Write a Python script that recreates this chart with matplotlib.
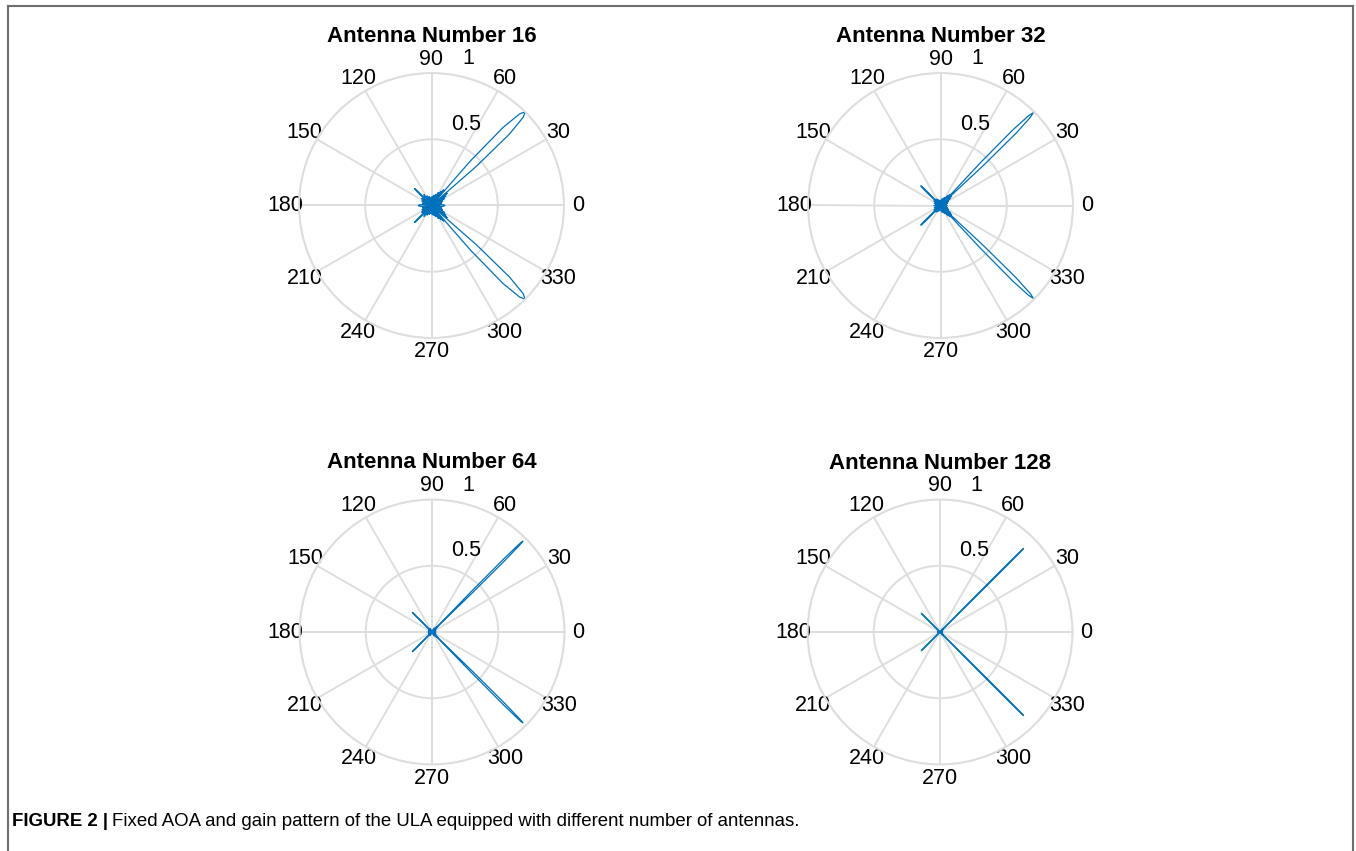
import numpy as np
import matplotlib.pyplot as plt
from matplotlib.lines import Line2D

plt.rcParams['font.family'] = ['Liberation Sans', 'DejaVu Sans']

# gain pattern (angles in degrees, gain normalised)
antenna_numbers = [16, 32, 64, 128]
aoa_deg = 45
main_peak = [1.00, 0.99, 0.97, 0.89]
main_halfwidth = [5.5, 2.8, 1.2, 0.5]

# sidelobes in the upper half plane (mirrored to the lower half)
side_angles_16 = [0, 8, 15, 22, 28, 34, 38, 52, 56, 62, 68, 75, 85, 95, 105, 115, 125, 135, 145, 155, 165, 180]
side_peaks_16 = [0.10, 0.07, 0.08, 0.09, 0.11, 0.13, 0.15, 0.15, 0.13, 0.11, 0.09, 0.08, 0.07, 0.06, 0.07, 0.08, 0.10, 0.18, 0.09, 0.08, 0.07, 0.10]
side_width_16 = [10, 2.5, 2.5, 2.5, 2.5, 2, 1.5, 1.5, 2, 2.5, 2.5, 2.5, 2.5, 2.5, 2.5, 2.5, 2.5, 2.5, 2.5, 2.5, 2.5, 10]

side_angles_32 = [0, 15, 22, 30, 36, 40, 50, 54, 60, 68, 80, 100, 115, 125, 135, 145, 160, 180]
side_peaks_32 = [0.05, 0.05, 0.06, 0.07, 0.09, 0.11, 0.11, 0.09, 0.07, 0.06, 0.05, 0.04, 0.05, 0.06, 0.21, 0.06, 0.05, 0.05]
side_width_32 = [4, 2, 2, 2, 1.5, 1, 1, 1.5, 2, 2, 2, 2, 2, 2, 2.5, 2, 2, 4]

side_angles_64 = [0, 30, 38, 42, 48, 52, 60, 120, 135, 150, 180]
side_peaks_64 = [0.03, 0.03, 0.04, 0.05, 0.05, 0.04, 0.03, 0.03, 0.21, 0.03, 0.03]
side_width_64 = [2, 1, 1, 0.8, 0.8, 1, 1, 1, 1.2, 1, 2]

side_angles_128 = [0, 40, 50, 135, 180]
side_peaks_128 = [0.02, 0.03, 0.03, 0.20, 0.02]
side_width_128 = [1, 0.5, 0.5, 0.6, 1]

side_angles = [side_angles_16, side_angles_32, side_angles_64, side_angles_128]
side_peaks = [side_peaks_16, side_peaks_32, side_peaks_64, side_peaks_128]
side_widths = [side_width_16, side_width_32, side_width_64, side_width_128]

theta_ticks = list(range(0, 360, 30))

# lobe outline template
lobe_offset = [-1, -0.7, -0.45, -0.2, 0, 0.2, 0.45, 0.7, 1]
lobe_shape = [0, 0.45, 0.8, 0.96, 1, 0.96, 0.8, 0.45, 0]

W, H = 1356, 851
R = 132.5
centers = [(431.5, 205.5), (940.5, 205.5), (432, 632), (940, 632)]

grid_c = '#dedede'
line_c = '#0072BD'

fig = plt.figure(figsize=(W / 100, H / 100), dpi=100)

for i, n in enumerate(antenna_numbers):
    cx, cy = centers[i]
    ax = fig.add_axes([(cx - R) / W, (H - cy - R) / H, 2 * R / W, 2 * R / H],
                      projection='polar')

    lobes = [(aoa_deg, main_peak[i], main_halfwidth[i]),
             (360 - aoa_deg, main_peak[i], main_halfwidth[i])]
    for a, p, w in zip(side_angles[i], side_peaks[i], side_widths[i]):
        lobes.append((a, p, w))
        if 0 < a < 180:
            lobes.append((360 - a, p, w))
    lobes.sort()

    th, rr = [], []
    for a, p, w in lobes:
        for o, s in zip(lobe_offset, lobe_shape):
            th.append(np.deg2rad(a + o * w))
            rr.append(p * s)
    ax.plot(th, rr, color=line_c, lw=0.9)

    ax.set_ylim(0, 1)
    ax.set_yticks([0.5, 1])
    ax.set_yticklabels([])
    ax.set_thetagrids(theta_ticks, labels=[str(t) for t in theta_ticks], fontsize=15.5)
    ax.tick_params(axis='x', pad=3, length=0)
    ax.tick_params(axis='y', length=0)
    ax.grid(color=grid_c, lw=1.4)
    ax.spines['polar'].set_color(grid_c)
    ax.spines['polar'].set_linewidth(1.4)
    ax.set_axisbelow(True)

    ax.text(0.630, 0.806, '0.5', transform=ax.transAxes, fontsize=15.5,
            ha='center', va='center')
    ax.text(0.638, 1.053, '1', transform=ax.transAxes, fontsize=15.5,
            ha='center', va='center')
    ax.set_title(f'Antenna Number {n}', fontsize=16, fontweight='bold',
                 y=1 + 31 / (2 * R), pad=0)

# frame around the figure panel
for xs, ys in [([8, 1353], [6, 6]), ([8, 8], [6, 851]), ([1353, 1353], [6, 851])]:
    fig.add_artist(Line2D([x / W for x in xs], [1 - y / H for y in ys],
                          color='#6e6e6e', lw=1.5, transform=fig.transFigure))

# caption
cap_y = 1 - 826 / H
t1 = fig.text(12 / W, cap_y, 'FIGURE 2 |', fontsize=13.4, fontweight='bold',
              va='baseline')
fig.canvas.draw()
bb = t1.get_window_extent(fig.canvas.get_renderer())
fig.text((bb.x1 + 4) / W, cap_y,
         'Fixed AOA and gain pattern of the ULA equipped with different number of antennas.',
         fontsize=13.4, va='baseline')

fig.savefig('out.png', dpi=100)
